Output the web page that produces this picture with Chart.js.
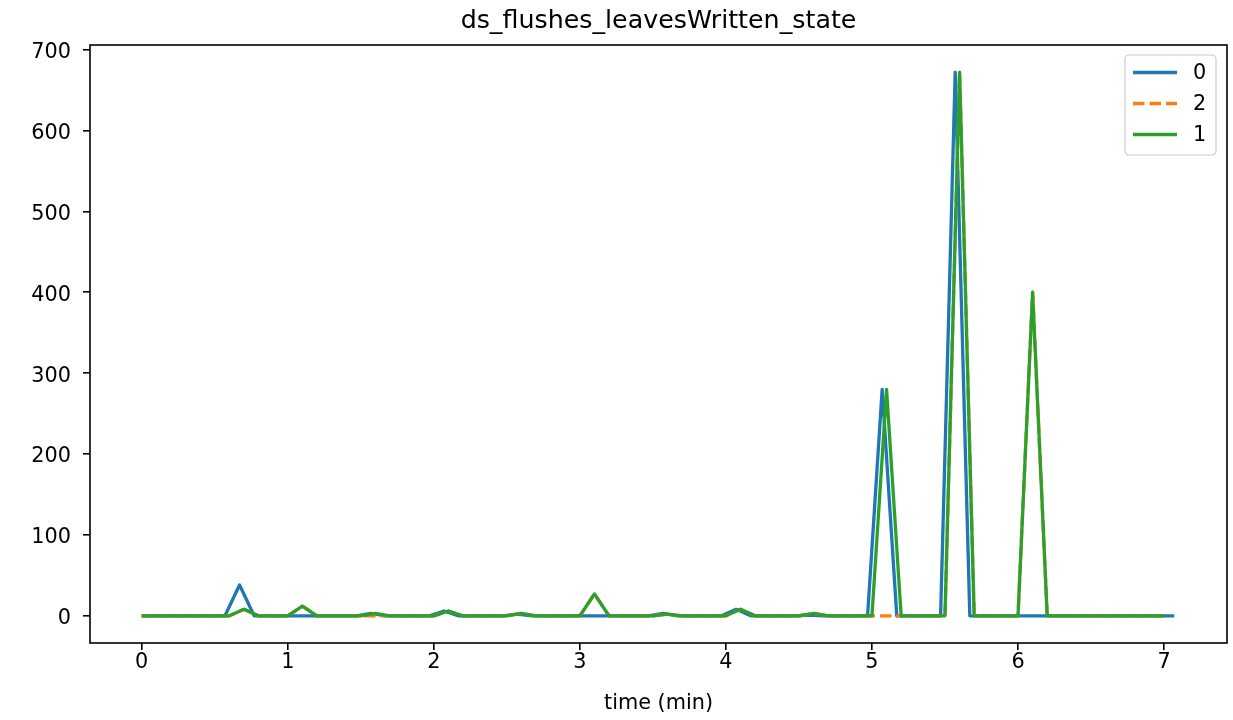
<!DOCTYPE html>
<html>
<head>
<meta charset="utf-8">
<script src="https://cdn.jsdelivr.net/npm/chart.js@4/dist/chart.umd.min.js"></script>
<style>
  html, body { margin: 0; padding: 0; background: #ffffff; }
  #wrap { width: 1233px; height: 720px; }
</style>
</head>
<body>
<div id="wrap"><canvas id="c" width="1233" height="720"></canvas></div>
<script>
const chartTitle = "ds_flushes_leavesWritten_state";
const xLabel = "time (min)";
const seriesLabels = ["0", "2", "1"];
const xTicks = [0, 1, 2, 3, 4, 5, 6, 7];
const yTicks = [0, 100, 200, 300, 400, 500, 600, 700];

// series "0"
const times0 = [0, 0.17, 0.27, 0.37, 0.47, 0.57, 0.67, 0.77, 0.87, 0.97,
  1.07, 1.17, 1.27, 1.37, 1.47, 1.57, 1.67, 1.77, 1.87, 1.97,
  2.07, 2.17, 2.27, 2.37, 2.47, 2.57, 2.67, 2.77, 2.87, 2.97,
  3.07, 3.17, 3.27, 3.37, 3.47, 3.57, 3.67, 3.77, 3.87, 3.97,
  4.07, 4.17, 4.27, 4.37, 4.47, 4.57, 4.67, 4.77, 4.87, 4.97,
  5.07, 5.17, 5.27, 5.37, 5.47, 5.57, 5.67, 5.77, 5.87, 5.97,
  6.07, 6.17, 6.27, 6.37, 6.47, 6.57, 6.67, 6.77, 6.87, 6.97,
  7.07];
const values0 = [0, 0, 0, 0, 0, 0, 38, 0, 0, 0,
  0, 0, 0, 0, 0, 3, 0, 0, 0, 0,
  6, 0, 0, 0, 0, 2, 0, 0, 0, 0,
  0, 0, 0, 0, 0, 3, 0, 0, 0, 0,
  8, 0, 0, 0, 0, 1, 0, 0, 0, 0,
  280, 0, 0, 0, 0, 672, 0, 0, 0, 0,
  0, 0, 0, 0, 0, 0, 0, 0, 0, 0,
  0];

// series "2" and "1" share sample times
const times12 = [0, 0.1, 0.2, 0.3, 0.4, 0.5, 0.6, 0.7, 0.8, 0.9,
  1.0, 1.1, 1.2, 1.3, 1.4, 1.5, 1.6, 1.7, 1.8, 1.9,
  2.0, 2.1, 2.2, 2.3, 2.4, 2.5, 2.6, 2.7, 2.8, 2.9,
  3.0, 3.1, 3.2, 3.3, 3.4, 3.5, 3.6, 3.7, 3.8, 3.9,
  4.0, 4.1, 4.2, 4.3, 4.4, 4.5, 4.6, 4.7, 4.8, 4.9,
  5.0, 5.1, 5.2, 5.3, 5.4, 5.5, 5.6, 5.7, 5.8, 5.9,
  6.0, 6.1, 6.2, 6.3, 6.4, 6.5, 6.6, 6.7, 6.8, 6.9,
  7.0];
const values2 = [0, 0, 0, 0, 0, 0, 0, 8, 0, 0,
  0, 12, 0, 0, 0, 0, 0, 0, 0, 0,
  0, 6, 0, 0, 0, 0, 3, 0, 0, 0,
  0, 27, 0, 0, 0, 0, 2, 0, 0, 0,
  0, 8, 0, 0, 0, 0, 3, 0, 0, 0,
  0, 0, 0, 0, 0, 0, 672, 0, 0, 0,
  0, 400, 0, 0, 0, 0, 0, 0, 0, 0,
  0];
const values1 = [0, 0, 0, 0, 0, 0, 0, 8, 0, 0,
  0, 12, 0, 0, 0, 0, 3, 0, 0, 0,
  0, 6, 0, 0, 0, 0, 3, 0, 0, 0,
  0, 27, 0, 0, 0, 0, 2, 0, 0, 0,
  0, 8, 0, 0, 0, 0, 3, 0, 0, 0,
  0, 280, 0, 0, 0, 0, 672, 0, 0, 0,
  0, 400, 0, 0, 0, 0, 0, 0, 0, 0,
  0];

const colors = ["#1f77b4", "#ff7f0e", "#2ca02c"];
const FONT = "DejaVu Sans";

function pts(t, v) { return t.map((x, i) => ({ x: x, y: v[i] })); }

const datasets = [
  { label: seriesLabels[0], data: pts(times0, values0), borderColor: colors[0], borderDash: [], order: 3 },
  { label: seriesLabels[1], data: pts(times12, values2), borderColor: colors[1], borderDash: [11.5, 5], order: 2 },
  { label: seriesLabels[2], data: pts(times12, values1), borderColor: colors[2], borderDash: [], order: 1 }
].map(d => Object.assign(d, {
  borderWidth: 3.3, pointRadius: 0, pointHoverRadius: 0, tension: 0, fill: false,
  borderJoinStyle: "round", borderCapStyle: "butt", backgroundColor: d.borderColor
}));

const xMin = -0.354, xMax = 7.431, yMin = -33.6, yMax = 705.6;

const decor = {
  id: "decor",
  afterDatasetsDraw(chart) {
    const ctx = chart.ctx, a = chart.chartArea;
    ctx.save();
    // spines
    ctx.strokeStyle = "#000"; ctx.lineWidth = 1.6;
    ctx.strokeRect(a.left, a.top, a.right - a.left, a.bottom - a.top);
    // title
    ctx.fillStyle = "#000";
    ctx.font = "25.3px '" + FONT + "'";
    ctx.textAlign = "center"; ctx.textBaseline = "alphabetic";
    ctx.fillText(chartTitle, (a.left + a.right) / 2, 28);
    // legend
    const lx = 1125, ly = 55, lw = 91, lh = 100, r = 4;
    ctx.beginPath();
    ctx.moveTo(lx + r, ly); ctx.lineTo(lx + lw - r, ly); ctx.arcTo(lx + lw, ly, lx + lw, ly + r, r);
    ctx.lineTo(lx + lw, ly + lh - r); ctx.arcTo(lx + lw, ly + lh, lx + lw - r, ly + lh, r);
    ctx.lineTo(lx + r, ly + lh); ctx.arcTo(lx, ly + lh, lx, ly + lh - r, r);
    ctx.lineTo(lx, ly + r); ctx.arcTo(lx, ly, lx + r, ly, r); ctx.closePath();
    ctx.fillStyle = "rgba(255,255,255,0.8)"; ctx.fill();
    ctx.strokeStyle = "#cccccc"; ctx.lineWidth = 1.2; ctx.stroke();
    const rows = [72.5, 103.5, 134.5];
    const byLegend = chart.data.datasets.slice();
    byLegend.forEach((ds, i) => {
      ctx.beginPath();
      ctx.strokeStyle = ds.borderColor; ctx.lineWidth = 3.3;
      ctx.setLineDash(ds.borderDash || []);
      ctx.moveTo(1133, rows[i]); ctx.lineTo(1177, rows[i]); ctx.stroke();
      ctx.setLineDash([]);
      ctx.fillStyle = "#000"; ctx.font = "20.8px '" + FONT + "'";
      ctx.textAlign = "left"; ctx.textBaseline = "middle";
      ctx.fillText(ds.label, 1193, rows[i] + 1);
    });
    ctx.restore();
  }
};

new Chart(document.getElementById("c"), {
  type: "line",
  data: { datasets: datasets },
  options: {
    responsive: false, animation: false, devicePixelRatio: 1,
    layout: { padding: { top: 45, right: 6, left: 0, bottom: 0 } },
    plugins: { legend: { display: false }, title: { display: false }, tooltip: { enabled: false } },
    scales: {
      x: {
        type: "linear", min: xMin, max: xMax,
        afterFit(s) { s.height = 77; },
        afterBuildTicks(s) { s.ticks = xTicks.map(v => ({ value: v })); },
        ticks: { includeBounds: false, autoSkip: false, maxRotation: 0, padding: 0, color: "#000",
                 font: { family: FONT, size: 20.8 }, callback: v => String(v) },
        grid: { display: true, drawOnChartArea: false, drawTicks: true, tickLength: 7, color: "#000", lineWidth: 1.6 },
        border: { display: false },
        title: { display: true, text: xLabel, color: "#000", font: { family: FONT, size: 20.8 }, padding: { top: 0, bottom: 4 } }
      },
      y: {
        type: "linear", min: yMin, max: yMax,
        afterFit(s) { s.width = 90; },
        afterBuildTicks(s) { s.ticks = yTicks.map(v => ({ value: v })); },
        ticks: { includeBounds: false, autoSkip: false, padding: 12, labelOffset: 3, color: "#000",
                 font: { family: FONT, size: 20.8 }, callback: v => String(v) },
        grid: { display: true, drawOnChartArea: false, drawTicks: true, tickLength: 7, color: "#000", lineWidth: 1.6 },
        border: { display: false }
      }
    }
  },
  plugins: [decor]
});
</script>
</body>
</html>
